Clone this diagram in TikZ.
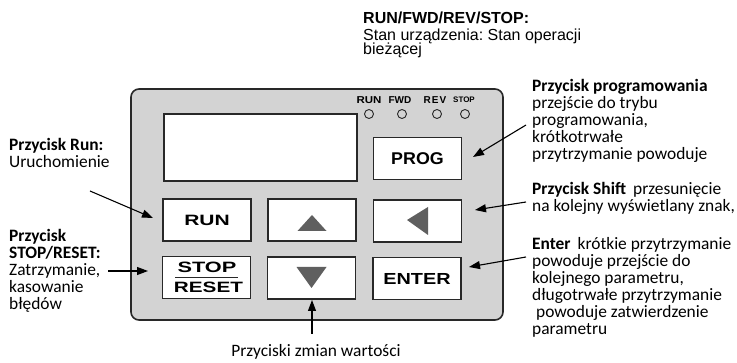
\documentclass[tikz,border=0pt]{standalone}
\usepackage{fontspec}
\usepackage{graphicx}
\setmainfont{Carlito}
\newfontfamily\arialf{Liberation Sans}
\usetikzlibrary{arrows.meta,calc}
\definecolor{panelgray}{RGB}{211,211,211}
\definecolor{edgecol}{RGB}{40,40,40}
\definecolor{trigray}{RGB}{95,95,95}
\newcommand\wide[2]{\scalebox{#1}[1]{#2}}
\newcommand\pitch[1]{\baselineskip=#1\relax\lineskiplimit=-100pt\relax\lineskip=0pt\relax}
\frenchspacing
\tikzset{
  panelbox/.style={draw=edgecol, line width=1.6pt, fill=panelgray, rounded corners=8pt,
    minimum width=372pt, minimum height=231pt, inner sep=0pt},
  screenbox/.style={draw=edgecol, line width=1.2pt, fill=white,
    minimum width=193pt, minimum height=67pt, inner sep=0pt},
  btn/.style={draw=edgecol, line width=1.2pt, fill=white,
    minimum width=88pt, minimum height=42pt, inner sep=0pt,
    font=\arialf\bfseries\fontsize{15}{15}\selectfont},
  btntext/.style={inner sep=0pt, font=\arialf\bfseries\fontsize{15}{15}\selectfont},
  led/.style={circle, draw=edgecol, line width=0.9pt, fill=panelgray, minimum size=9pt, inner sep=0pt},
  ledlabel/.style={inner sep=0pt, font=\arialf\bfseries\fontsize{10}{10}\selectfont},
  tri/.style={fill=trigray},
  txt/.style={inner sep=0pt, anchor=base west, font=\fontsize{17.4}{17.4}\selectfont},
  arialtxt/.style={inner sep=0pt, anchor=base west, font=\arialf\fontsize{16}{16}\selectfont},
  arr/.style={draw=black, line width=1.1pt, -{Triangle[length=11pt,width=8pt]}}
}
\begin{document}
\begin{tikzpicture}[x=1pt,y=-1pt]
\useasboundingbox (0,0) rectangle (737,363);
% panel and display
\node[panelbox] (panel) at (317,204.5) {};
\node[screenbox] (display) at (260.5,147.5) {};
% LEDs
\node[ledlabel] (lrun) at (369,100) {\wide{1.15}{RUN}};
\node[ledlabel] (lfwd) at (400,100) {FWD};
\node[ledlabel] (lrev) at (435,100) {R\kern1pt E\kern1pt V};
\node[ledlabel, font=\arialf\bfseries\fontsize{8}{8}\selectfont] (lstop) at (464,100) {STOP};
\node[led] (ledrun) at (369,114) {};
\node[led] (ledfwd) at (402,114) {};
\node[led] (ledrev) at (437,114) {};
\node[led] (ledstop) at (465,114) {};
% buttons
\node[btn, font=\arialf\bfseries\fontsize{17}{17}\selectfont] (prog) at (417.5,158.5) {\wide{1.05}{PROG}};
\node[btn] (run) at (207,220) {\wide{1.4}{RUN}};
\node[btn] (up) at (312,220) {};
\node[btn] (left) at (417.5,221) {};
\node[btn] (stop) at (206.5,277.5) {};
\node[btn] (down) at (311.5,278) {};
\node[btn, font=\arialf\bfseries\fontsize{16}{16}\selectfont] (enter) at (417,278.5) {\wide{1.24}{ENTER}};
\node[btntext] (stoptxt) at ($(stop.center)+(0.5,-10.5)$) {\wide{1.45}{STOP}};
\node[btntext] (resettxt) at ($(stop.center)+(2,9.5)$) {\wide{1.38}{RESET}};
\draw[edgecol, line width=1.2pt] ($(stop.center)+(-31.5,0)$) -- ($(stop.center)+(31.5,0)$);
% triangles
\fill[tri] ($(up.center)+(0,-5)$) -- ++(-14.5,16) -- ++(29,0) -- cycle;
\fill[tri] ($(down.center)+(-15,-11)$) -- ++(30,0) -- ++(-15,21) -- cycle;
\fill[tri] ($(left.center)+(-10.5,-1)$) -- ++(21,-13) -- ++(0,28) -- cycle;
% texts
\node[arialtxt] (statetxt) at (363,24) {\vtop{\pitch{14.5pt}\hbox{\bfseries RUN/FWD/REV/STOP:}\vskip2pt\hbox{Stan urządzenia: Stan operacji}\hbox{bieżącej}}};
\node[txt] (progtxt) at (532,92) {\vtop{\pitch{17pt}\hbox{\bfseries Przycisk programowania}\hbox{przejście do trybu}\hbox{programowania,}\hbox{krótkotrwałe}\hbox{przytrzymanie powoduje}}};
\node[txt] (shifttxt) at (532,195) {\vtop{\pitch{17pt}\hbox{\textbf{Przycisk Shift}\hspace{7pt}przesunięcie}\hbox{na kolejny wyświetlany znak,}}};
\node[txt] (entertxt) at (532,250) {\vtop{\pitch{17pt}\hbox{\textbf{Enter}\hspace{7pt}krótkie przytrzymanie}\hbox{powoduje przejście do}\hbox{kolejnego parametru,}\hbox{długotrwałe przytrzymanie}\hbox{\hspace{4pt}powoduje zatwierdzenie}\hbox{parametru}}};
\node[txt] (runtxt) at (9,151) {\vtop{\pitch{17pt}\hbox{\bfseries Przycisk Run:}\hbox{Uruchomienie}}};
\node[txt] (stopdesc) at (9,242) {\vtop{\pitch{17pt}\hbox{\bfseries Przycisk}\hbox{\bfseries STOP/RESET:}\hbox{Zatrzymanie,}\hbox{kasowanie}\hbox{błędów}}};
\node[txt, anchor=base] (valtxt) at (316,357) {Przyciski zmian wartości};
% arrows
\coordinate (runfrom) at (90,191);   \coordinate (runto) at (153,218);
\coordinate (stopfrom) at (108,271); \coordinate (stopto) at (148,271);
\coordinate (downfrom) at (312,334); \coordinate (downto) at (312,300);
\coordinate (progfrom) at (526,125); \coordinate (progto) at (473,157);
\coordinate (shiftfrom) at (526,202); \coordinate (shiftto) at (475,210);
\coordinate (enterfrom) at (526,257); \coordinate (enterto) at (469,267);
\draw[arr] (runfrom) -- (runto);
\draw[arr] (stopfrom) -- (stopto);
\draw[arr] (downfrom) -- (downto);
\draw[arr] (progfrom) -- (progto);
\draw[arr] (shiftfrom) -- (shiftto);
\draw[arr] (enterfrom) -- (enterto);
\end{tikzpicture}
\end{document}
